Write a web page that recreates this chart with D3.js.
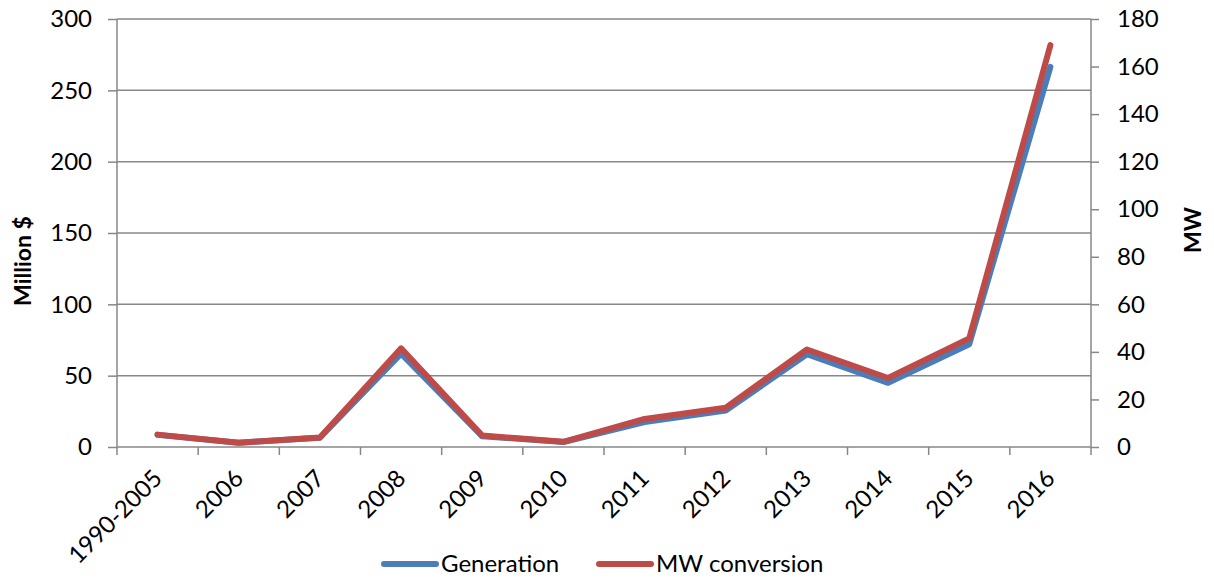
<!DOCTYPE html>
<html>
<head>
<meta charset="utf-8">
<script src="https://cdn.jsdelivr.net/npm/d3@7"></script>
<style>
  html, body { margin: 0; padding: 0; background: #fff; }
  text { font-family: Lato, "Open Sans", sans-serif; fill: #000; }
</style>
</head>
<body>
<svg id="chart" width="1214" height="578"></svg>
<script>
// Categories and series
const categories = ["1990-2005", "2006", "2007", "2008", "2009", "2010", "2011", "2012", "2013", "2014", "2015", "2016"];
const generation = [8.5, 3, 6.5, 65.5, 7.5, 3.5, 17.5, 25.5, 65, 45, 72, 266.5];   // Million $
const mwConversion = [5.2, 1.8, 4, 41.5, 4.8, 2.2, 11.8, 16.5, 41, 29, 45.7, 169]; // MW
const leftTicks = [0, 50, 100, 150, 200, 250, 300];
const rightTicks = [0, 20, 40, 60, 80, 100, 120, 140, 160, 180];

const svg = d3.select("#chart");
const m = { left: 117, right: 1091, top: 19, bottom: 447 };
const gridColor = "#878787";
const fontSize = "24px";

const x = d3.scaleBand().domain(categories).range([m.left, m.right]);
const yL = d3.scaleLinear().domain([0, 300]).range([m.bottom, m.top]);
const yR = d3.scaleLinear().domain([0, 180]).range([m.bottom, m.top]);

// horizontal gridlines
svg.append("g").selectAll("line").data(leftTicks.filter(d => d > 0)).join("line")
  .attr("x1", m.left).attr("x2", m.right)
  .attr("y1", d => yL(d)).attr("y2", d => yL(d))
  .attr("stroke", gridColor).attr("stroke-width", 1.5);

// left axis
const gL = svg.append("g").attr("transform", `translate(${m.left},0)`)
  .call(d3.axisLeft(yL).tickValues(leftTicks).tickSize(9).tickPadding(16));
gL.selectAll("path, line").attr("stroke", gridColor).attr("stroke-width", 1.5);
gL.select(".domain").attr("d", `M0,${m.top}V${m.bottom}`);
gL.selectAll("text").style("font-size", fontSize).style("font-family", "Lato, sans-serif").attr("fill", "#000");

// right axis
const gR = svg.append("g").attr("transform", `translate(${m.right},0)`)
  .call(d3.axisRight(yR).tickValues(rightTicks).tickSize(8).tickPadding(18));
gR.selectAll("path, line").attr("stroke", gridColor).attr("stroke-width", 1.5);
gR.select(".domain").attr("d", `M0,${m.top}V${m.bottom}`);
gR.selectAll("text").style("font-size", fontSize).style("font-family", "Lato, sans-serif").attr("fill", "#000");

// bottom axis with ticks at category boundaries
const gB = svg.append("g").attr("transform", `translate(0,${m.bottom})`);
gB.append("line").attr("x1", m.left).attr("x2", m.right)
  .attr("stroke", gridColor).attr("stroke-width", 1.5);
const bounds = categories.map(c => x(c)).concat([m.right]);
gB.selectAll("line.tick").data(bounds).join("line").attr("class", "tick")
  .attr("x1", d => d).attr("x2", d => d).attr("y1", 0).attr("y2", 8)
  .attr("stroke", gridColor).attr("stroke-width", 1.5);
gB.selectAll("text.cat").data(categories).join("text").attr("class", "cat")
  .attr("transform", d => `translate(${x(d) + x.bandwidth() / 2 + 6},${33}) rotate(-45)`)
  .attr("text-anchor", "end")
  .style("font-size", fontSize)
  .text(d => d);

// series lines
const lineGen = d3.line().x((d, i) => x(categories[i]) + x.bandwidth() / 2).y(d => yL(d));
const lineMW = d3.line().x((d, i) => x(categories[i]) + x.bandwidth() / 2).y(d => yR(d));
svg.append("path").datum(generation).attr("d", lineGen)
  .attr("fill", "none").attr("stroke", "#4a7ebb").attr("stroke-width", 6)
  .attr("stroke-linejoin", "round").attr("stroke-linecap", "round");
svg.append("path").datum(mwConversion).attr("d", lineMW)
  .attr("fill", "none").attr("stroke", "#be4b48").attr("stroke-width", 6)
  .attr("stroke-linejoin", "round").attr("stroke-linecap", "round");

// axis titles
svg.append("text").attr("transform", `translate(31,261) rotate(-90)`)
  .attr("text-anchor", "middle").style("font-size", "23px").style("font-weight", "bold")
  .text("Million $");
svg.append("text").attr("transform", `translate(1201,230) rotate(-90)`)
  .attr("text-anchor", "middle").style("font-size", "23px").style("font-weight", "bold")
  .text("MW");

// legend
const legend = [
  { name: "Generation", color: "#4a7ebb", x: 384 },
  { name: "MW conversion", color: "#be4b48", x: 599 }
];
const lg = svg.append("g").selectAll("g").data(legend).join("g")
  .attr("transform", d => `translate(${d.x},564)`);
lg.append("line").attr("x1", 0).attr("x2", 52)
  .attr("stroke", d => d.color).attr("stroke-width", 6).attr("stroke-linecap", "round");
lg.append("text").attr("x", 57).attr("dy", "0.35em").style("font-size", fontSize).text(d => d.name);
</script>
</body>
</html>
